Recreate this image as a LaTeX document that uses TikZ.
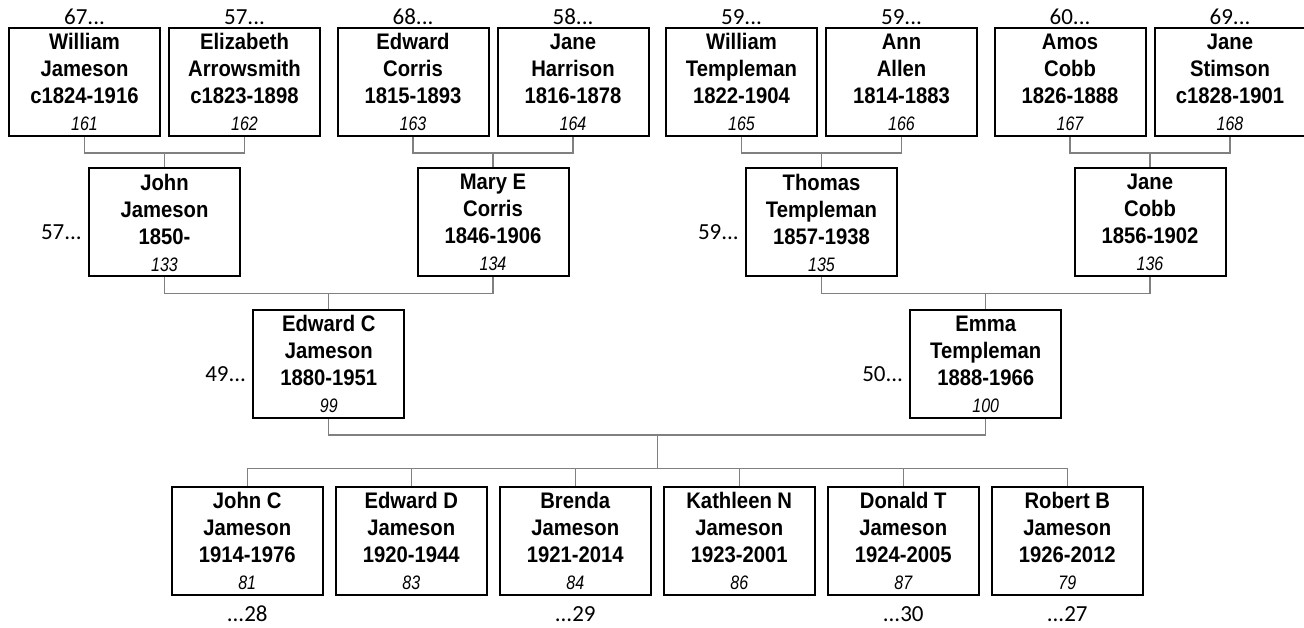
\documentclass[tikz,border=0pt]{standalone}
\usepackage{fontspec}
\usetikzlibrary{positioning,calc}
\newfontfamily\namefont[FakeStretch=0.9]{Liberation Sans}
\newfontfamily\reffont[FakeStretch=0.82]{Liberation Sans}
\newfontfamily\tagfont{Carlito}
\definecolor{rule}{HTML}{808080}
\newcommand{\pers}[4]{#1\\#2\\#3\\{\reffont\mdseries\itshape\fontsize{19.5}{20}\selectfont #4}}

\begin{document}
\begin{tikzpicture}[
      x=1pt, y=1pt,
      pbox/.style={rectangle, draw=black, line width=2pt, fill=white,
                   minimum width=151pt, minimum height=108pt, inner sep=0pt,
                   align=center, font={\namefont\bfseries\fontsize{22.5}{27}\selectfont}},
      tag/.style={inner sep=0pt, font={\tagfont\fontsize{23}{26}\selectfont}},
      link/.style={draw=rule, line width=1.4pt}
    ]
      \useasboundingbox (0,0) rectangle (1304,-628);
      % great-grandparents
      \node[pbox] (wjam) at (84.5,-82) {\pers{William}{Jameson}{c1824-1916}{161}};
      \node[pbox, right=7pt of wjam] (earr) {\pers{Elizabeth}{Arrowsmith}{c1823-1898}{162}};
      \node[pbox, right=15.5pt of earr] (ecor) {\pers{Edward}{Corris}{1815-1893}{163}};
      \node[pbox, right=7pt of ecor] (jhar) {\pers{Jane}{Harrison}{1816-1878}{164}};
      \node[pbox, right=15.5pt of jhar] (wtem) {\pers{William}{Templeman}{1822-1904}{165}};
      \node[pbox, right=7pt of wtem] (aall) {\pers{Ann}{Allen}{1814-1883}{166}};
      \node[pbox, right=15.5pt of aall] (acob) {\pers{Amos}{Cobb}{1826-1888}{167}};
      \node[pbox, right=7pt of acob] (jsti) {\pers{Jane}{Stimson}{c1828-1901}{168}};
      % grandparents
      \node[pbox] (jjam) at ($(wjam)!0.5!(earr)+(0,-140.5)$) {\pers{John}{Jameson}{1850-}{133}};
      \node[pbox] (mcor) at ($(ecor)!0.5!(jhar)+(0,-140.5)$) {\pers{Mary E}{Corris}{1846-1906}{134}};
      \node[pbox] (ttem) at ($(wtem)!0.5!(aall)+(0,-140.5)$) {\pers{Thomas}{Templeman}{1857-1938}{135}};
      \node[pbox] (jcob) at ($(acob)!0.5!(jsti)+(0,-140.5)$) {\pers{Jane}{Cobb}{1856-1902}{136}};
      % parents
      \node[pbox] (ejam) at ($(jjam)!0.5!(mcor)+(0,-141.5)$) {\pers{Edward C}{Jameson}{1880-1951}{99}};
      \node[pbox] (etem) at ($(ttem)!0.5!(jcob)+(0,-141.5)$) {\pers{Emma}{Templeman}{1888-1966}{100}};
      % children
      \node[pbox] (jcj) at ($(ejam)!0.5!(etem)+(-410,-176.5)$) {\pers{John C}{Jameson}{1914-1976}{81}};
      \node[pbox, right=11pt of jcj] (edj) {\pers{Edward D}{Jameson}{1920-1944}{83}};
      \node[pbox, right=11pt of edj] (brj) {\pers{Brenda}{Jameson}{1921-2014}{84}};
      \node[pbox, right=11pt of brj] (knj) {\pers{Kathleen N}{Jameson}{1923-2001}{86}};
      \node[pbox, right=11pt of knj] (dtj) {\pers{Donald T}{Jameson}{1924-2005}{87}};
      \node[pbox, right=11pt of dtj] (rbj) {\pers{Robert B}{Jameson}{1926-2012}{79}};

      % ancestor counts
      \node[tag, anchor=base] (wjamtag) at ([yshift=2]wjam.north) {67...};
      \node[tag, anchor=base] (earrtag) at ([yshift=2]earr.north) {57...};
      \node[tag, anchor=base] (ecortag) at ([yshift=2]ecor.north) {68...};
      \node[tag, anchor=base] (jhartag) at ([yshift=2]jhar.north) {58...};
      \node[tag, anchor=base] (wtemtag) at ([yshift=2]wtem.north) {59...};
      \node[tag, anchor=base] (aalltag) at ([yshift=2]aall.north) {59...};
      \node[tag, anchor=base] (acobtag) at ([yshift=2]acob.north) {60...};
      \node[tag, anchor=base] (jstitag) at ([yshift=2]jsti.north) {69...};
      \node[tag, anchor=east] (jjamtag) at ([xshift=-6,yshift=-10]jjam.west) {57...};
      \node[tag, anchor=east] (ttemtag) at ([xshift=-6,yshift=-10]ttem.west) {59...};
      \node[tag, anchor=east] (ejamtag) at ([xshift=-6,yshift=-10]ejam.west) {49...};
      \node[tag, anchor=east] (etemtag) at ([xshift=-6,yshift=-10]etem.west) {50...};
      % descendant counts
      \node[tag, anchor=base] (jcjtag) at ([yshift=-26]jcj.south) {...28};
      \node[tag, anchor=base] (brjtag) at ([yshift=-26]brj.south) {...29};
      \node[tag, anchor=base] (dtjtag) at ([yshift=-26]dtj.south) {...30};
      \node[tag, anchor=base] (rbjtag) at ([yshift=-26]rbj.south) {...27};

      % couples to child
      \draw[link] (wjam.south) -- ++(0,-16) -| (earr.south);
      \draw[link] (ecor.south) -- ++(0,-16) -| (jhar.south);
      \draw[link] (wtem.south) -- ++(0,-16) -| (aall.south);
      \draw[link] (acob.south) -- ++(0,-16) -| (jsti.south);
      \foreach \k in {jjam,mcor,ttem,jcob}
        \draw[link] (\k.north) -- ++(0,15);
      \draw[link] (jjam.south) -- ++(0,-16) -| (mcor.south);
      \draw[link] (ttem.south) -- ++(0,-16) -| (jcob.south);
      \foreach \k in {ejam,etem}
        \draw[link] (\k.north) -- ++(0,16);
      \draw[link] (ejam.south) -- ++(0,-16) -| (etem.south);
      \coordinate (fork) at ($(ejam.south)!0.5!(etem.south)+(0,-16)$);
      \draw[link] (fork) -- ++(0,-34);
      \draw[link] (jcj.north) -- ++(0,17) -| (rbj.north);
      \foreach \k in {edj,brj,knj,dtj}
        \draw[link] (\k.north) -- ++(0,17);
    \end{tikzpicture}
\end{document}
